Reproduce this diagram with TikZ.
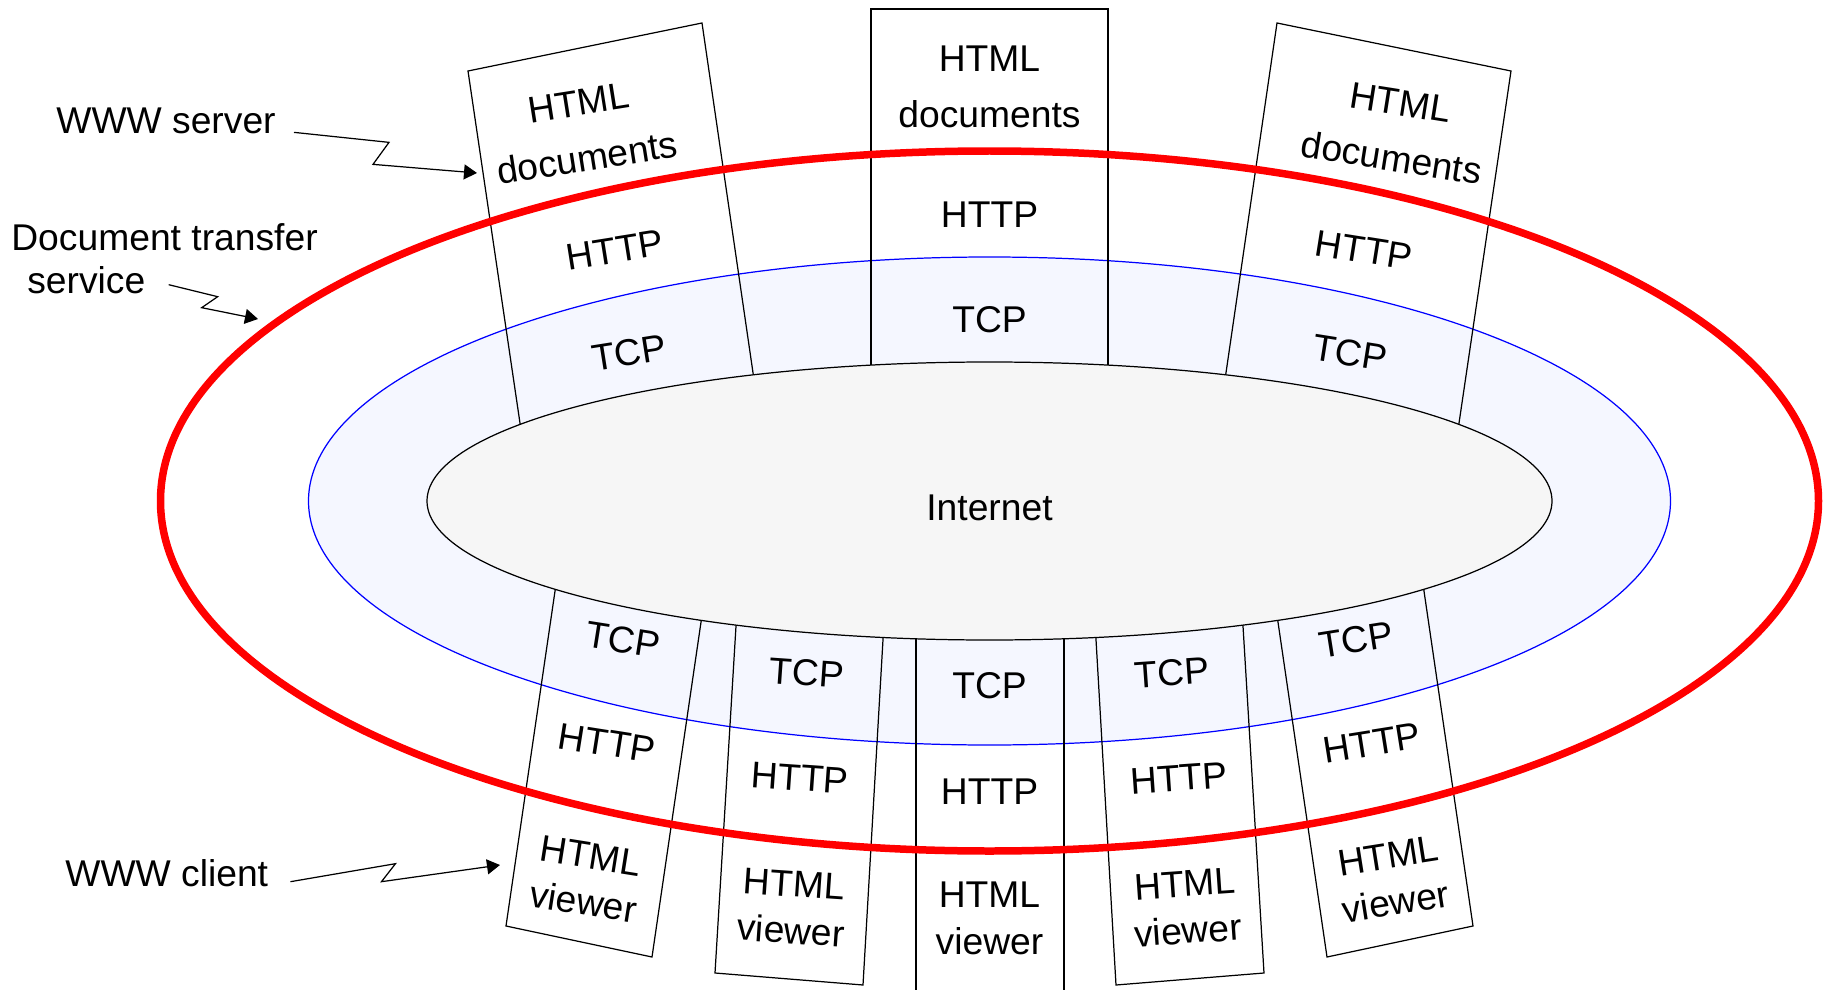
\documentclass[tikz,border=0pt]{standalone}
\usepackage{fontspec}
\setmainfont{Liberation Sans}
\usetikzlibrary{arrows.meta}
\definecolor{tcpblue}{RGB}{245,247,255}
\definecolor{netgray}{RGB}{246,246,246}

\begin{document}
\begin{tikzpicture}[
    x=0.02cm, y=-0.02cm,
    font=\fontsize{21.2pt}{24pt}\selectfont,
    every node/.style={inner sep=0pt},
    stack/.style={draw=black, line width=0.7pt},
    docs/.style={align=center, font=\fontsize{21.2pt}{31.9pt}\selectfont},
    viewer/.style={align=center, font=\fontsize{21.2pt}{26.7pt}\selectfont},
    zig/.style={line width=0.7pt, -{Triangle[length=0.26cm,width=0.3cm]}}]

\useasboundingbox (0,0) rectangle (1823,990);

% TCP ring
\path[draw=blue, line width=0.7pt, fill=tcpblue] (989.5,501) ellipse [x radius=681, y radius=244];

% server stacks
\draw[stack] (468,71) -- (702,23) -- (758,407) -- (525,457) -- cycle;
\draw[stack] (871,9) rectangle (1108,420);
\draw[stack] (1511,71) -- (1277,23) -- (1221,407) -- (1454,457) -- cycle;

% client stacks
\draw[stack] (560,557) -- (706,588) -- (652,957) -- (506,926) -- cycle;
\draw[stack] (738,593) -- (885,605) -- (863,985) -- (715,973) -- cycle;
\draw[stack] (916,600) -- (916,990) (1064,600) -- (1064,990);
\draw[stack] (1241,593) -- (1094,605) -- (1116,985) -- (1264,973) -- cycle;
\draw[stack] (1419,557) -- (1273,588) -- (1327,957) -- (1473,926) -- cycle;

% document transfer service
\draw[red, line width=0.15cm] (989.5,501) ellipse [x radius=829, y radius=350];

% Internet
\draw[fill=netgray, line width=0.7pt] (989.5,501) ellipse [x radius=562.5, y radius=139];
\node (net) at (989.5,508) {Internet};

% server layers
\node[docs, rotate=9] (sdoc1) at (583,130.5) {HTML\\documents};
\node[rotate=9] (shttp1) at (615,250) {HTTP};
\node[rotate=9] (stcp1) at (629,353) {TCP};

\node[docs] (sdoc2) at (989.5,87) {HTML\\documents};
\node (shttp2) at (989.5,215) {HTTP};
\node (stcp2) at (989.5,320) {TCP};

\node[docs, rotate=-9] (sdoc3) at (1396,130.5) {HTML\\documents};
\node[rotate=-9] (shttp3) at (1364,250) {HTTP};
\node[rotate=-9] (stcp3) at (1350,353) {TCP};

% client layers
\node[rotate=-9] (ctcp1) at (623,640) {TCP};
\node[rotate=-9] (chttp1) at (607,743) {HTTP};
\node[viewer, rotate=-9] (cview1) at (587,879) {HTML\\viewer};

\node[rotate=-4] (ctcp2) at (807,673) {TCP};
\node[rotate=-4] (chttp2) at (800,778) {HTTP};
\node[viewer, rotate=-4] (cview2) at (792.5,907.5) {HTML\\viewer};

\node (ctcp3) at (989.5,686) {TCP};
\node (chttp3) at (989.5,792) {HTTP};
\node[viewer] (cview3) at (989.5,918.5) {HTML\\viewer};

\node[rotate=4] (ctcp4) at (1172,673) {TCP};
\node[rotate=4] (chttp4) at (1179,778) {HTTP};
\node[viewer, rotate=4] (cview4) at (1186.5,907.5) {HTML\\viewer};

\node[rotate=9] (ctcp5) at (1356,640) {TCP};
\node[rotate=9] (chttp5) at (1372,743) {HTTP};
\node[viewer, rotate=9] (cview5) at (1392,879) {HTML\\viewer};

% side labels
\node[anchor=base west] (srv) at (56,133) {WWW server};
\node[anchor=base west] (dts) at (11,250) {Document transfer};
\node[anchor=base west] (svc) at (27,293) {service};
\node[anchor=base west] (cli) at (65,886) {WWW client};

\coordinate (srvtip) at (477,173);
\coordinate (svctip) at (258,319);
\coordinate (clitip) at (500,865);

\draw[zig] ([shift={(18,12)}]srv.east) -- ++(95,10) -- ++(-16,22) -- (srvtip);
\draw[zig] ([shift={(23,5)}]svc.east) -- ++(49,12) -- ++(-16,11) -- (svctip);
\draw[zig] ([shift={(22,9)}]cli.east) -- ++(105,-18) -- ++(-14,18) -- (clitip);

\end{tikzpicture}
\end{document}
